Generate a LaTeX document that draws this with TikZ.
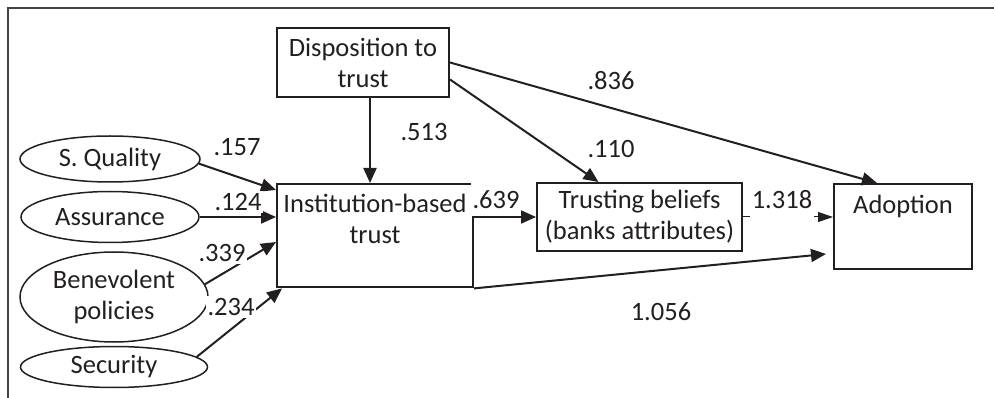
\documentclass[tikz,border=0pt]{standalone}
\usepackage{fontspec}
\setmainfont{Carlito}
\usepackage{tikz}
\usetikzlibrary{positioning, calc, shapes.geometric, arrows.meta}
\definecolor{inkdark}{RGB}{35,31,32}
\tikzset{
    construct box/.style={rectangle, draw=inkdark, line width=2pt, align=center, inner sep=0pt},
    construct oval/.style={ellipse, draw=inkdark, line width=1.5pt, align=center, inner sep=0pt},
    path label/.style={fill=white, inner sep=2pt},
    path arrow/.style={inkdark, line width=2pt, -{Triangle[length=15pt, width=13pt]}},
    thin arrow/.style={inkdark, line width=1pt, -{Triangle[length=15pt, width=10pt]}},
    frame line/.style={draw=inkdark!85, line width=2.2pt},
}
\newcommand{\drawconstructs}{
    \node[construct box, minimum width=172pt, minimum height=69pt] (disp) at (363,62.5) {Disposition to\\trust};
    \node[construct box, anchor=north, minimum width=196pt, inner ysep=10pt, text depth=34pt] (inst) at (375,183) {Institution-based\\trust};
    \node[construct box, minimum width=205pt, minimum height=68pt] (tb) at (639.5,217) {Trusting beliefs\\(banks attributes)};
    \node[construct box, anchor=north, minimum width=138pt, inner ysep=10pt, text height=20pt, text depth=45pt] (ad) at (903,183) {Adoption};
    \node[construct oval, minimum width=180pt, minimum height=46pt] (sq) at (110,159) {S. Quality};
    \node[construct oval, minimum width=178pt, minimum height=51pt] (as) at (110,217) {Assurance};
    \node[construct oval, minimum width=188pt, minimum height=90pt] (ben) at (114,297) {Benevolent\\policies};
    \node[construct oval, minimum width=187pt, minimum height=41pt] (sec) at (114,367) {Security};
}

\begin{document}
\begin{tikzpicture}[x=1pt, y=-1pt, font=\fontsize{26.5}{31}\selectfont, text=inkdark]
    \useasboundingbox (0,0) rectangle (994,398);
    \draw[frame line] (994,8) -- (8,8) -- (8,398);
    \drawconstructs
    \coordinate (dbottom) at ($(disp.south)+(7,0)$);
    \path[path arrow]
    (dbottom) edge (dbottom |- inst.north)
    (disp.east) edge ([xshift=-26pt]ad.north)
    ([yshift=-17pt]disp.east) edge ([xshift=-41pt]tb.north)
    (sq.-3) edge ([yshift=-7pt]inst.north west)
    (as.east) edge (as.east -| inst.west)
    (ben.8) edge ([yshift=-59pt]inst.north west)
    (sec.7) edge ([xshift=6pt]inst.south west)
    (tb.west -| inst.east) edge (tb.west)
    (inst.south east) edge ([xshift=-7pt, yshift=16pt]ad.south west);
    \path[thin arrow] (tb.east) edge (tb.east -| ad.west);
    \node[path label] (l157) at (237,147) {.157};
    \node[path label] (l124) at (238,202) {.124};
    \node[path label] (l339) at (222,253) {.339};
    \node[path label] (l234) at (231,307) {.234};
    \node[path label] (l513) at (424,132) {.513};
    \node[path label] (l836) at (611,81) {.836};
    \node[path label] (l110) at (611,149) {.110};
    \node[path label, minimum height=33pt] (l639) at (496,200) {.639};
    \node[path label, minimum height=35pt] (l1318) at (782,200) {1.318};
    \node[path label] (l1056) at (661,312) {1.056};
\end{tikzpicture}
\end{document}
